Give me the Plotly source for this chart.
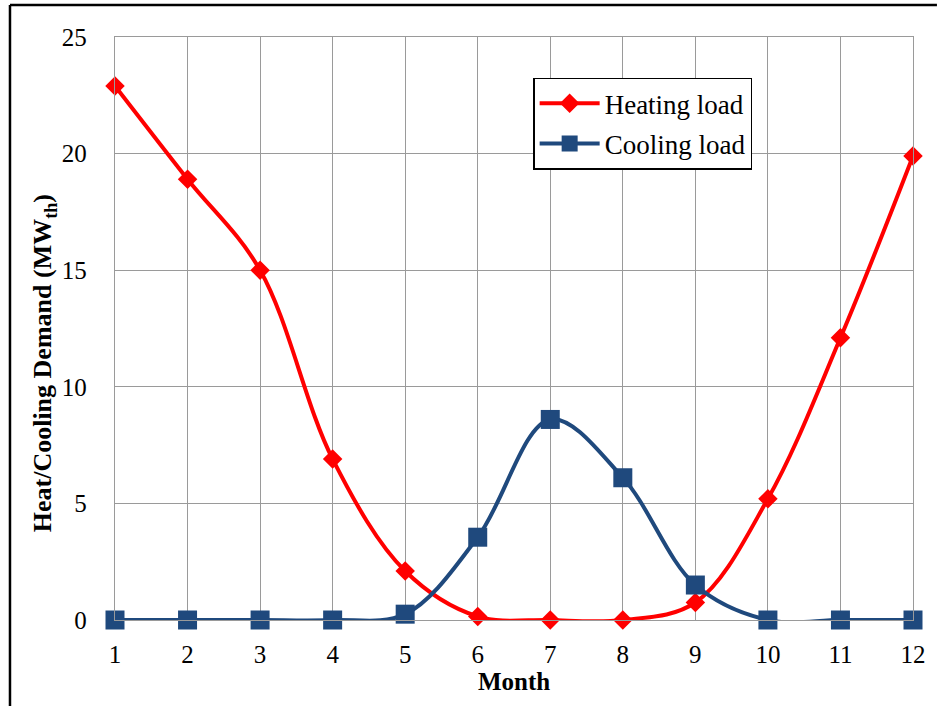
import plotly.graph_objects as go

months = [1, 2, 3, 4, 5, 6, 7, 8, 9, 10, 11, 12]
heating_load = [22.9, 18.9, 15.0, 6.9, 2.1, 0.15, 0.0, 0.0, 0.75, 5.2, 12.1, 19.9]
cooling_load = [0.0, 0.0, 0.0, 0.0, 0.25, 3.55, 8.6, 6.1, 1.5, 0.0, 0.0, 0.0]
y_ticks = [0, 5, 10, 15, 20, 25]

RED = "#FF0000"
NAVY = "#1F497D"
GRID = "#9A9A9A"
FONT = "Times New Roman"

fig = go.Figure()
fig.add_trace(go.Scatter(
    x=months, y=heating_load, name="Heating load", legendgroup="heat",
    mode="lines+markers",
    line=dict(color=RED, width=4, shape="spline", smoothing=1.0),
    marker=dict(symbol="diamond", size=15, color=RED),
    cliponaxis=False,
))
fig.add_trace(go.Scatter(
    x=months, y=cooling_load, name="Cooling load", legendgroup="cool",
    mode="lines+markers",
    line=dict(color=NAVY, width=4, shape="spline", smoothing=1.0),
    marker=dict(symbol="square", size=19, color=NAVY),
    cliponaxis=False,
))

# Outer frame lines (left and top edges)
fig.add_shape(type="line", xref="paper", yref="paper",
              x0=-0.1316, x1=-0.1316, y0=1.0549, y1=-0.16,
              line=dict(color="black", width=2.5))
fig.add_shape(type="line", xref="paper", yref="paper",
              x0=-0.1316, x1=1.030, y0=1.0549, y1=1.0549,
              line=dict(color="black", width=2.5))

# Vertical axis title
fig.add_annotation(
    text="<b>Heat/Cooling Demand (MW<sub>th</sub>)</b>",
    xref="paper", yref="paper", x=-0.088, y=0.44,
    xanchor="center", yanchor="middle", textangle=-90, showarrow=False,
    font=dict(family=FONT, size=26, color="black"),
)

fig.update_layout(
    width=946, height=706,
    margin=dict(l=115, r=33, t=37, b=86),
    paper_bgcolor="white", plot_bgcolor="white",
    font=dict(family=FONT, size=25, color="black"),
    showlegend=True,
    legend=dict(
        x=0.524, y=0.93, xanchor="left", yanchor="top",
        bgcolor="white", bordercolor="black", borderwidth=1.5,
        font=dict(family=FONT, size=27, color="black"),
        itemwidth=60, tracegroupgap=2,
    ),
    xaxis=dict(
        range=[1, 12], tickvals=months, showgrid=True, gridcolor=GRID, gridwidth=1.3,
        showline=True, linecolor=GRID, linewidth=1.3, mirror=True,
        zeroline=False, ticks="", ticklabelstandoff=12,
        tickfont=dict(family=FONT, size=25),
        title=dict(text="<b>Month</b>", standoff=0, font=dict(family=FONT, size=25)),
    ),
    yaxis=dict(
        range=[0, 25], tickvals=y_ticks, showgrid=True, gridcolor=GRID, gridwidth=1.3,
        showline=True, linecolor=GRID, linewidth=1.3, mirror=True,
        zeroline=False, ticks="", ticklabelstandoff=22,
        tickfont=dict(family=FONT, size=25),
    ),
)

fig.write_html("out.html")
